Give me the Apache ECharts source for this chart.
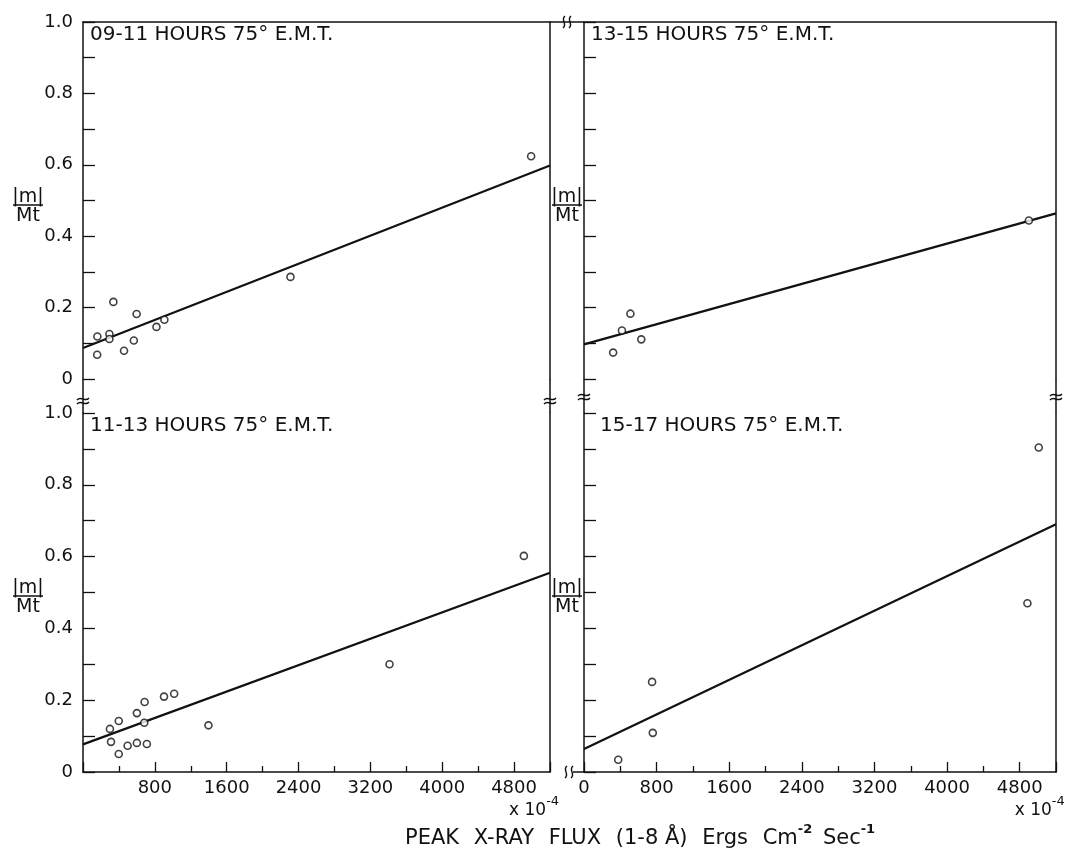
<!DOCTYPE html>
<html>
<head>
<meta charset="utf-8">
<title>|m|/Mt vs peak X-ray flux</title>
<script src="https://cdn.jsdelivr.net/npm/echarts@6.0.0/dist/echarts.min.js"></script>
<style>
  html, body { margin: 0; padding: 0; background: #fff; }
  #chart { width: 1071px; height: 850px; }
</style>
</head>
<body>
<div id="chart"></div>
<script>
// peak x-ray flux (x10^-4 erg cm^-2 s^-1) and |m|/Mt
var panelTitles = ['09-11 HOURS 75° E.M.T.', '13-15 HOURS 75° E.M.T.', '11-13 HOURS 75° E.M.T.', '15-17 HOURS 75° E.M.T.']

var flux0911 = [160, 158, 294, 294, 338, 457, 566, 597, 818, 906, 2310, 4990]
var ratio0911 = [0.119, 0.068, 0.126, 0.112, 0.216, 0.079, 0.108, 0.182, 0.146, 0.166, 0.286, 0.624]
var fit0911 = [[0, 0.087], [5200, 0.598]]

var flux1315 = [321, 418, 511, 631, 4901]
var ratio1315 = [0.074, 0.136, 0.183, 0.111, 0.444]
var fit1315 = [[0, 0.097], [5200, 0.464]]

var flux1113 = [300, 312, 398, 398, 497, 600, 600, 686, 682, 711, 902, 1015, 1397, 3413, 4909]
var ratio1113 = [0.120, 0.084, 0.142, 0.050, 0.073, 0.164, 0.081, 0.195, 0.137, 0.078, 0.210, 0.218, 0.130, 0.300, 0.602]
var fit1113 = [[0, 0.077], [5200, 0.555]]

var flux1517 = [377, 750, 758, 4885, 5010]
var ratio1517 = [0.034, 0.251, 0.109, 0.470, 0.904]
var fit1517 = [[0, 0.064], [5200, 0.690]]

var xMax = 5200
var xStep = 800
var yMax = 1.0
var yStep = 0.2

var FONT = 'DejaVu Sans'
var INK = '#111'

// panel boxes: [left, top, width, height]
var boxes = [
  [83, 22, 467, 357],
  [584, 22, 472, 357],
  [83, 413, 467, 359],
  [584, 413, 472, 359]
]
var panels = [
  { x: flux0911, y: ratio0911, fit: fit0911 },
  { x: flux1315, y: ratio1315, fit: fit1315 },
  { x: flux1113, y: ratio1113, fit: fit1113 },
  { x: flux1517, y: ratio1517, fit: fit1517 }
]

function zip(a, b) {
  return a.map(function(v, i) { return [v, b[i]] })
}

var myChart = echarts.init(document.getElementById('chart'))

var grid = [], xAxis = [], yAxis = [], series = []
boxes.forEach(function(b, i) {
  var isTop = i < 2
  var isLeft = i % 2 === 0
  grid.push({ left: b[0], top: b[1], width: b[2], height: b[3], outerBoundsMode: 'none' })
  xAxis.push({
    type: 'value', gridIndex: i, min: 0, max: xMax, interval: xStep,
    position: isTop ? 'top' : 'bottom',
    axisLine: { show: true, onZero: false, lineStyle: { color: INK, width: 1.5 } },
    axisTick: { show: !isTop, inside: true, length: 10, lineStyle: { color: INK, width: 1.3 } },
    minorTick: { show: !isTop, splitNumber: 2, length: 6, lineStyle: { color: INK, width: 1.3 } },
    axisLabel: {
      show: !isTop, margin: 7, color: INK, fontFamily: FONT, fontSize: 18,
      formatter: function(v) {
        if (v > 4800) return ''
        if (v === 0 && isLeft) return ''
        return String(v)
      }
    },
    splitLine: { show: false }, minorSplitLine: { show: false }
  })
  yAxis.push({
    type: 'value', gridIndex: i, min: 0, max: yMax, interval: yStep,
    axisLine: { show: true, onZero: false, lineStyle: { color: INK, width: 1.5 } },
    axisTick: { show: true, inside: true, length: 12, lineStyle: { color: INK, width: 1.3 } },
    minorTick: { show: true, splitNumber: 2, length: 12, lineStyle: { color: INK, width: 1.3 } },
    axisLabel: {
      show: isLeft, margin: 10, color: INK, fontFamily: FONT, fontSize: 18,
      formatter: function(v) { return v === 0 ? '0' : v.toFixed(1) }
    },
    splitLine: { show: false }, minorSplitLine: { show: false }
  })
  // right frame edge
  yAxis.push({
    type: 'value', gridIndex: i, min: 0, max: yMax, position: 'right',
    axisLine: { show: true, onZero: false, lineStyle: { color: INK, width: 1.5 } },
    axisTick: { show: false }, axisLabel: { show: false }, splitLine: { show: false }
  })
  var p = panels[i]
  series.push({
    type: 'line', xAxisIndex: i, yAxisIndex: i * 2, data: p.fit,
    symbol: 'none', lineStyle: { color: INK, width: 2.2 }, z: 2
  })
  series.push({
    type: 'scatter', xAxisIndex: i, yAxisIndex: i * 2, data: zip(p.x, p.y),
    symbol: 'circle', symbolSize: 7,
    itemStyle: { color: '#fff', borderColor: INK, borderWidth: 1.6 }, z: 3
  })
})

// frame pieces across the breaks, break marks, and labels
var g = []
function seg(x1, y1, x2, y2) {
  g.push({ type: 'line', shape: { x1: x1, y1: y1, x2: x2, y2: y2 }, style: { stroke: INK, lineWidth: 1.5 }, silent: true })
}
function curve(x1, y1, c1x, c1y, c2x, c2y, x2, y2) {
  g.push({ type: 'bezierCurve', shape: { x1: x1, y1: y1, cpx1: c1x, cpy1: c1y, cpx2: c2x, cpy2: c2y, x2: x2, y2: y2 },
    style: { stroke: INK, lineWidth: 1.4, fill: null }, silent: true })
}
// break across a vertical line
function breakOnV(x, y) {
  [-2, 2].forEach(function(d) {
    curve(x - 6, y + d + 1, x - 2, y + d - 4, x + 2, y + d + 4, x + 6, y + d - 1)
  })
}
// break across a horizontal line
function breakOnH(x, y) {
  [-3, 3].forEach(function(d) {
    curve(x + d + 1, y - 6, x + d - 4, y - 2, x + d + 4, y + 2, x + d - 1, y + 6)
  })
}
function text(str, x, y, size, align) {
  g.push({ type: 'text', x: x, y: y, silent: true,
    style: { text: str, fill: INK, font: size + 'px "' + FONT + '"', align: align || 'left', verticalAlign: 'middle' } })
}

var topEdge = boxes[0][1]
var midTop = boxes[0][1] + boxes[0][3]
var midBot = boxes[2][1]
var bottomEdge = boxes[2][1] + boxes[2][3]
var vx = [boxes[0][0], boxes[0][0] + boxes[0][2], boxes[1][0], boxes[1][0] + boxes[1][2]]
var gapMid = (vx[1] + vx[2]) / 2

vx.forEach(function(x, k) {
  seg(x, midTop, x, midBot)
  breakOnV(x, k < 2 ? 401 : 397)
})
seg(vx[1], topEdge, vx[2], topEdge)
breakOnH(gapMid, topEdge)
seg(gapMid + 6, bottomEdge, vx[2], bottomEdge)
breakOnH(gapMid + 2, bottomEdge)

boxes.forEach(function(b, i) {
  text(panelTitles[i], b[0] + (i === 3 ? 16 : 7), b[1] + 13, 20)
  var cx = i % 2 === 0 ? 28 : gapMid
  var cy = b[1] + 183
  text('|m|', cx, cy - 8, 19, 'center')
  seg(cx - 15, cy, cx + 15, cy)
  text('Mt', cx, cy + 11, 19, 'center')
})

// x10^-4 multipliers
;[boxes[2], boxes[3]].forEach(function(b) {
  var tick4800 = b[0] + b[2] * 4800 / xMax
  g.push({ type: 'text', x: tick4800 - 5, y: 807, silent: true,
    style: { text: '{a|x 10}{b|-4}', fill: INK, align: 'left', verticalAlign: 'middle',
      rich: {
        a: { fontFamily: FONT, fontSize: 17, lineHeight: 24, verticalAlign: 'bottom', fill: INK },
        b: { fontFamily: FONT, fontSize: 13, lineHeight: 8, verticalAlign: 'top', fill: INK }
      } } })
})

// axis caption, words spaced out like the lettering of the original
g.push({ type: 'text', x: 405, y: 836, silent: true,
  style: { text: '{w|PEAK }{w|X-RAY }{w|FLUX }{w|(1-8 Å) }{w|Ergs }{n|Cm}{s|-2}{t| Sec}{s|-1}', fill: INK, align: 'left', verticalAlign: 'middle',
    rich: {
      w: { fontFamily: FONT, fontSize: 21, lineHeight: 26, verticalAlign: 'bottom', padding: [0, 8, 0, 0], fill: INK },
      n: { fontFamily: FONT, fontSize: 21, lineHeight: 26, verticalAlign: 'bottom', fill: INK },
      t: { fontFamily: FONT, fontSize: 21, lineHeight: 26, verticalAlign: 'bottom', padding: [0, 0, 0, 4], fill: INK },
      s: { fontFamily: FONT, fontSize: 13, fontWeight: 'bold', lineHeight: 8, verticalAlign: 'top', fill: INK }
    } } })

var option = {
  backgroundColor: '#fff',
  animation: false,
  grid: grid,
  xAxis: xAxis,
  yAxis: yAxis,
  series: series,
  graphic: g
}

myChart.setOption(option)
</script>
</body>
</html>
